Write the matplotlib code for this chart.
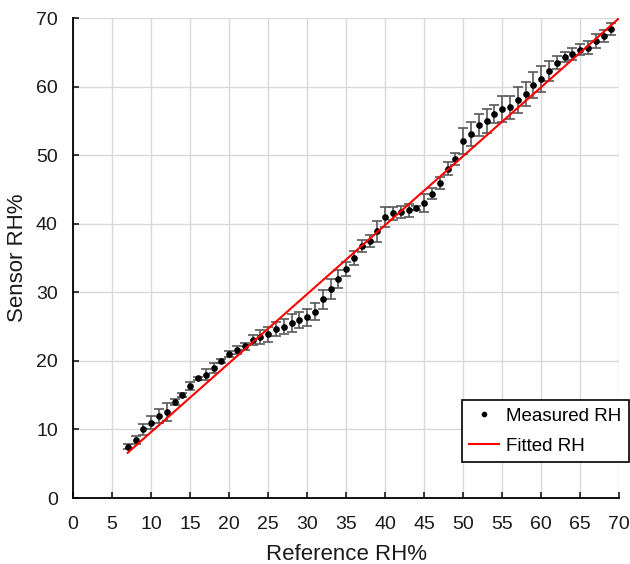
import numpy as np
import matplotlib
matplotlib.use("Agg")
import matplotlib.pyplot as plt

plt.rcParams['font.family'] = ['Liberation Sans', 'DejaVu Sans']

# measured sensor RH vs reference RH (mean +/- std)
ref_rh = list(range(7, 70))
sensor_rh = [7.5, 8.5, 10.0, 11.0, 12.0, 12.6, 14.0, 15.0, 16.3, 17.45,
             18.0, 19.0, 20.0, 20.95, 21.6, 22.1, 23.0, 23.5, 23.9, 24.6,
             25.0, 25.5, 26.0, 26.35, 27.2, 29.0, 30.5, 32.0, 33.4, 35.0,
             36.75, 37.5, 38.9, 41.0, 41.5, 41.7, 41.95, 42.3, 43.0, 44.4,
             45.9, 48.0, 49.4, 52.0, 53.1, 54.4, 55.0, 56.0, 56.8, 57.0,
             58.0, 58.9, 60.2, 61.1, 62.3, 63.5, 64.3, 64.8, 65.4, 65.7,
             66.7, 67.4, 68.4]
sensor_err = [0.35, 0.55, 0.8, 0.9, 1.0, 1.3, 0.4, 0.25, 0.6, 0.25,
              0.8, 0.75, 0.3, 0.45, 0.6, 0.45, 0.75, 1.0, 1.1, 1.0,
              1.05, 1.35, 1.2, 1.2, 1.25, 1.4, 1.45, 1.3, 1.05, 1.05,
              0.9, 0.85, 1.55, 1.45, 0.9, 0.9, 0.9, 0.35, 1.3, 0.8,
              0.9, 0.95, 0.9, 1.9, 1.75, 1.6, 1.8, 1.3, 1.9, 1.7,
              1.9, 1.8, 1.9, 1.9, 1.5, 0.9, 0.7, 0.9, 0.85, 0.9,
              1.0, 0.9, 0.85]

# fitted line end points
fit_x = [7.0, 70.0]
fit_y = [6.6, 70.0]

fig = plt.figure(figsize=(6.3, 5.64), dpi=100)
ax = fig.add_axes([0.116, 0.117, 0.867, 0.851])

ax.errorbar(ref_rh, sensor_rh, yerr=sensor_err, fmt='none', ecolor='#595959',
            elinewidth=1.2, capsize=3.5, capthick=1.2, zorder=2)
ax.plot(ref_rh, sensor_rh, 'o', color='black', markersize=3.8, zorder=3,
        label='Measured RH')
ax.plot(fit_x, fit_y, color='#ff0000', linewidth=1.5, zorder=4, label='Fitted RH')

ax.set_xlim(0, 70)
ax.set_ylim(0, 70)
ax.set_xticks(np.arange(0, 71, 5))
ax.set_yticks(np.arange(0, 71, 10))
ax.grid(True, color='#d9d9d9', linewidth=1.0)
ax.set_axisbelow(True)

for s in ['top', 'right']:
    ax.spines[s].set_visible(False)
for s in ['left', 'bottom']:
    ax.spines[s].set_linewidth(1.3)
ax.tick_params(direction='in', length=4.5, width=1.2, labelsize=14,
               colors='#1a1a1a', pad=11)
ax.tick_params(axis='x', pad=13)

ax.set_xlabel('Reference RH%', fontsize=16, labelpad=8, color='#1a1a1a')
ax.set_ylabel('Sensor RH%', fontsize=16, labelpad=6, color='#1a1a1a')

leg = ax.legend(loc='upper right', bbox_to_anchor=(0.998, 1 - 400 / 564),
                bbox_transform=fig.transFigure, fontsize=13.5, frameon=True,
                fancybox=False, edgecolor='black', framealpha=1,
                handlelength=1.6, handletextpad=0.35, markerscale=0.8,
                borderpad=0.4, labelspacing=0.7, borderaxespad=0)
leg.get_frame().set_linewidth(1.2)

fig.savefig('out.png', dpi=100)
